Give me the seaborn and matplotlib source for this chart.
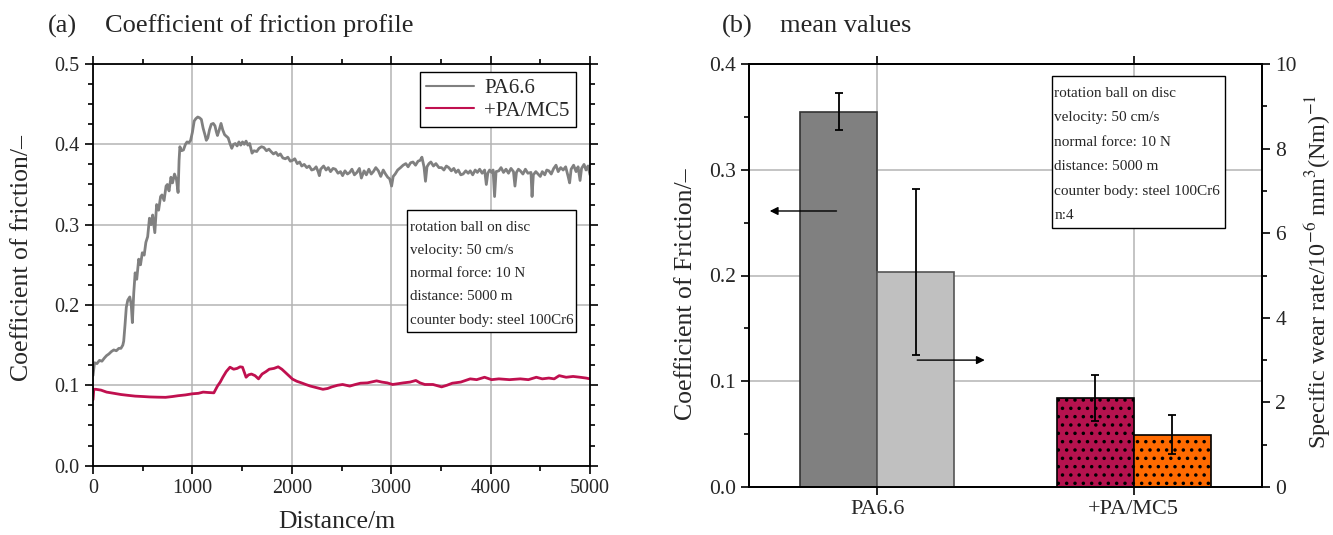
import numpy as np
import pandas as pd
import matplotlib
matplotlib.use("Agg")
import matplotlib.pyplot as plt
from matplotlib.patches import Rectangle
from matplotlib.ticker import MultipleLocator, FormatStrFormatter
import seaborn as sns

# ---- data ----
pa66_dist = [0, 15, 40, 65, 90, 115, 137, 160, 185, 209, 235, 260, 281, 300, 309, 322, 335, 350, 370, 385,
             396, 410, 424, 440, 460, 478, 496, 515, 532, 550, 568, 585, 600, 622, 640, 660, 680, 694, 715, 735,
             748, 765, 784, 800, 820, 840, 856, 866, 874, 890, 910, 930, 946, 965, 982, 1000, 1018, 1035, 1054, 1072,
             1090, 1108, 1126, 1140, 1155, 1172, 1190, 1210, 1227, 1240, 1252, 1270, 1288, 1305, 1324, 1342, 1360, 1378, 1396, 1414,
             1432, 1450, 1468, 1486, 1504, 1522, 1540, 1558, 1576, 1590, 1600, 1620, 1647, 1670, 1695, 1719, 1745, 1770, 1791, 1815,
             1840, 1863, 1885, 1910, 1935, 1960, 1985, 2007, 2030, 2055, 2079, 2100, 2125, 2151, 2175, 2200, 2223, 2245, 2265, 2277,
             2290, 2320, 2345, 2367, 2390, 2415, 2439, 2465, 2490, 2511, 2535, 2560, 2583, 2605, 2630, 2655, 2680, 2700, 2727, 2750,
             2775, 2799, 2820, 2845, 2871, 2895, 2920, 2943, 2965, 2985, 3004, 3020, 3040, 3065, 3094, 3120, 3147, 3170, 3195, 3219,
             3245, 3270, 3291, 3309, 3330, 3345, 3360, 3380, 3399, 3425, 3450, 3480, 3507, 3530, 3555, 3579, 3605, 3630, 3651, 3675,
             3700, 3723, 3750, 3775, 3795, 3820, 3845, 3867, 3890, 3915, 3940, 3957, 3972, 3990, 4011, 4025, 4040, 4055, 4083, 4105,
             4130, 4155, 4180, 4205, 4230, 4245, 4260, 4280, 4299, 4325, 4350, 4375, 4406, 4417, 4430, 4455, 4478, 4500, 4520, 4545,
             4565, 4586, 4610, 4635, 4658, 4680, 4705, 4730, 4755, 4780, 4795, 4810, 4835, 4860, 4880, 4900, 4915, 4940, 4960, 4980,
             5000]
pa66_cof = [0.112, 0.128, 0.127, 0.131, 0.130, 0.134, 0.137, 0.139, 0.142, 0.144, 0.143, 0.146, 0.146, 0.150, 0.155, 0.175, 0.197, 0.206, 0.210, 0.200,
            0.178, 0.215, 0.240, 0.232, 0.257, 0.250, 0.265, 0.262, 0.278, 0.285, 0.308, 0.300, 0.312, 0.290, 0.325, 0.318, 0.335, 0.337, 0.330, 0.348,
            0.350, 0.342, 0.359, 0.352, 0.363, 0.356, 0.340, 0.380, 0.397, 0.392, 0.393, 0.400, 0.403, 0.402, 0.405, 0.415, 0.429, 0.432, 0.434, 0.433,
            0.431, 0.420, 0.412, 0.405, 0.408, 0.418, 0.425, 0.426, 0.423, 0.416, 0.411, 0.418, 0.426, 0.418, 0.412, 0.410, 0.408, 0.401, 0.395, 0.400,
            0.401, 0.398, 0.403, 0.399, 0.403, 0.400, 0.404, 0.399, 0.401, 0.394, 0.389, 0.392, 0.391, 0.395, 0.397, 0.396, 0.392, 0.394, 0.391, 0.388,
            0.390, 0.386, 0.388, 0.383, 0.382, 0.384, 0.379, 0.380, 0.382, 0.376, 0.378, 0.373, 0.375, 0.371, 0.373, 0.368, 0.369, 0.372, 0.366, 0.361,
            0.369, 0.373, 0.368, 0.371, 0.366, 0.370, 0.369, 0.364, 0.366, 0.361, 0.367, 0.363, 0.365, 0.369, 0.362, 0.365, 0.370, 0.358, 0.367, 0.362,
            0.369, 0.363, 0.366, 0.371, 0.367, 0.360, 0.368, 0.363, 0.359, 0.357, 0.348, 0.360, 0.363, 0.368, 0.371, 0.374, 0.376, 0.372, 0.377, 0.378,
            0.374, 0.379, 0.380, 0.384, 0.372, 0.354, 0.372, 0.376, 0.378, 0.373, 0.376, 0.371, 0.371, 0.368, 0.373, 0.371, 0.367, 0.370, 0.365, 0.368,
            0.362, 0.363, 0.367, 0.364, 0.367, 0.362, 0.368, 0.365, 0.369, 0.364, 0.368, 0.350, 0.364, 0.368, 0.365, 0.368, 0.335, 0.366, 0.367, 0.371,
            0.365, 0.369, 0.364, 0.370, 0.366, 0.348, 0.365, 0.369, 0.367, 0.363, 0.369, 0.364, 0.365, 0.335, 0.362, 0.366, 0.363, 0.360, 0.366, 0.362,
            0.368, 0.367, 0.363, 0.370, 0.374, 0.366, 0.371, 0.368, 0.372, 0.360, 0.352, 0.369, 0.374, 0.366, 0.372, 0.355, 0.370, 0.375, 0.368, 0.373,
            0.362]

mc5_dist = [0, 8, 29, 80, 137, 210, 281, 350, 424, 500, 568, 650, 730, 800, 856, 930, 1000, 1060, 1108, 1160,
            1216, 1252, 1280, 1306, 1340, 1378, 1415, 1450, 1480, 1504, 1540, 1565, 1594, 1630, 1665, 1701, 1740, 1773, 1820, 1863,
            1900, 1935, 2007, 2050, 2097, 2140, 2187, 2250, 2313, 2360, 2403, 2460, 2511, 2583, 2640, 2691, 2760, 2853, 2906, 2960,
            3014, 3070, 3122, 3190, 3248, 3290, 3338, 3420, 3507, 3560, 3615, 3700, 3795, 3860, 3939, 4010, 4083, 4190, 4299, 4380,
            4460, 4520, 4586, 4640, 4690, 4760, 4830, 4900, 4960, 5000]
mc5_cof = [0.082, 0.095, 0.095, 0.094, 0.0915, 0.090, 0.0885, 0.0875, 0.0865, 0.086, 0.0855, 0.0852, 0.085, 0.086, 0.087, 0.088, 0.0894, 0.090, 0.0915, 0.091,
           0.0906, 0.099, 0.104, 0.110, 0.117, 0.1225, 0.120, 0.121, 0.123, 0.1225, 0.110, 0.113, 0.114, 0.112, 0.108, 0.114, 0.117, 0.120, 0.121, 0.123,
           0.120, 0.116, 0.1077, 0.105, 0.103, 0.101, 0.099, 0.097, 0.095, 0.096, 0.098, 0.100, 0.101, 0.099, 0.101, 0.1026, 0.103, 0.1055, 0.104, 0.103,
           0.101, 0.102, 0.103, 0.104, 0.106, 0.103, 0.101, 0.101, 0.098, 0.100, 0.1026, 0.104, 0.108, 0.107, 0.110, 0.107, 0.108, 0.107, 0.108, 0.107,
           0.110, 0.108, 0.109, 0.108, 0.112, 0.110, 0.111, 0.110, 0.109, 0.108]

categories = ["PA6.6", "+PA/MC5"]
cof_mean = [0.355, 0.084]
cof_err = [0.0175, 0.022]
wear_mean = [5.08, 1.24]
wear_err = [1.97, 0.46]

conditions_a = ["rotation ball on disc", "velocity: 50 cm/s", "normal force: 10 N",
                "distance: 5000 m", "counter body: steel 100Cr6"]
conditions_b = conditions_a + ["n:4"]

sns.set_theme(style="ticks")
plt.rcParams["font.family"] = ["Liberation Serif", "DejaVu Serif"]
plt.rcParams["mathtext.fontset"] = "stix"
plt.rcParams["hatch.linewidth"] = 1.3
plt.rcParams["hatch.color"] = "black"

grey_line = "#808080"
red_line = "#c0104f"

fig = plt.figure(figsize=(13.33, 5.35), dpi=100)
ax = fig.add_axes([93 / 1333, 1 - 465.6 / 535, 497 / 1333, 401.6 / 535])
axb = fig.add_axes([749 / 1333, 1 - 487 / 535, 513 / 1333, 423 / 535])

# ---- (a) friction profile ----
df_a = pd.concat([
    pd.DataFrame({"Distance": pa66_dist, "COF": pa66_cof, "Material": "PA6.6"}),
    pd.DataFrame({"Distance": mc5_dist, "COF": mc5_cof, "Material": "+PA/MC5"}),
])
sns.lineplot(data=df_a, x="Distance", y="COF", hue="Material",
             palette={"PA6.6": grey_line, "+PA/MC5": red_line},
             linewidth=2.0, ax=ax, estimator=None, sort=False)

ax.set_xlim(0, 5000)
ax.set_ylim(0, 0.5)
ax.xaxis.set_major_locator(MultipleLocator(1000))
ax.xaxis.set_minor_locator(MultipleLocator(500))
ax.yaxis.set_major_locator(MultipleLocator(0.1))
ax.yaxis.set_minor_locator(MultipleLocator(0.025))
ax.yaxis.set_major_formatter(FormatStrFormatter("%.1f"))
ax.grid(True, which="major", color="#b4b4b4", linewidth=1.1)
ax.set_axisbelow(True)
ax.tick_params(which="both", direction="out", top=True, right=True, labelsize=14.5, width=1.2, color="black")
ax.tick_params(which="major", length=6)
ax.tick_params(which="minor", length=3.5)
for s in ax.spines.values():
    s.set_linewidth(1.3)
    s.set_color("black")
ax.set_xlabel("Distance/m", fontsize=18.5)
ax.set_ylabel("Coefficient of friction/\u2013", fontsize=18.5)
ax.xaxis.set_label_coords(0.49, -0.113)
ax.yaxis.set_label_coords(-0.12, 0.517)

leg = ax.legend(loc="upper right", bbox_to_anchor=(0.972, 0.98), borderaxespad=0,
                fontsize=15, frameon=True, fancybox=False, edgecolor="black", framealpha=1,
                handlelength=2.3, handletextpad=0.5, borderpad=0.3, labelspacing=0.15, title=None)
leg.get_frame().set_linewidth(1.0)
for h in leg.get_lines():
    h.set_linewidth(1.5)

ax.add_patch(Rectangle((0.632, 0.333), 0.34, 0.303, transform=ax.transAxes,
                       facecolor="white", edgecolor="black", linewidth=1.0, zorder=5))
for i, t in enumerate(conditions_a):
    ax.text(0.638, 0.594 - i * 0.058, t, transform=ax.transAxes, fontsize=10.8,
            va="center", ha="left", zorder=6)

# ---- (b) mean values ----
xpos = np.arange(len(categories))
w = 0.3
cof_colors = ["#808080", "#b5124e"]
wear_colors = ["#c0c0c0", "#ff6a00"]
cof_edges = ["#333333", "black"]
wear_edges = ["#555555", "black"]
hatches = [None, ".."]

axw = axb.twinx()
axb.bar(xpos - w / 2, cof_mean, width=w, color=cof_colors, edgecolor=cof_edges,
        linewidth=1.2, zorder=2)
axw.bar(xpos + w / 2, wear_mean, width=w, color=wear_colors, edgecolor=wear_edges,
        linewidth=1.2, zorder=2)
for p, hch in zip(axb.patches, hatches):
    if hch:
        p.set_hatch(hch)
for p, hch in zip(axw.patches, hatches):
    if hch:
        p.set_hatch(hch)
axb.errorbar(xpos - w / 2, cof_mean, yerr=cof_err, fmt="none", ecolor="black",
             elinewidth=1.3, capsize=3, capthick=1.3, zorder=3)
axw.errorbar(xpos + w / 2, wear_mean, yerr=wear_err, fmt="none", ecolor="black",
             elinewidth=1.3, capsize=3, capthick=1.3, zorder=3)

axb.set_xlim(-0.5, 1.5)
axb.set_ylim(0, 0.4)
axw.set_ylim(0, 10)
axb.set_xticks(xpos)
axb.set_xticklabels(categories)
axb.yaxis.set_major_locator(MultipleLocator(0.1))
axb.yaxis.set_minor_locator(MultipleLocator(0.05))
axb.yaxis.set_major_formatter(FormatStrFormatter("%.1f"))
axw.yaxis.set_major_locator(MultipleLocator(2))
axw.yaxis.set_minor_locator(MultipleLocator(1))
axb.grid(True, which="major", color="#b4b4b4", linewidth=1.1)
axb.set_axisbelow(True)
axb.tick_params(which="both", direction="out", top=True, labelsize=15.5, width=1.2, color="black")
axb.tick_params(axis="x", labelsize=16)
axb.tick_params(axis="x", which="minor", top=False, bottom=False)
axw.tick_params(which="both", direction="out", labelsize=15.5, width=1.2, color="black")
for a in (axb, axw):
    a.tick_params(which="major", length=6)
    a.tick_params(which="minor", length=3.5)
    for s in a.spines.values():
        s.set_linewidth(1.3)
        s.set_color("black")
axb.set_ylabel("Coefficient of Friction/\u2013", fontsize=18.5)
axw.set_ylabel("Specific wear rate/10$^{-6}$ mm$^{3}$(Nm)$^{-1}$", fontsize=17.5)
axb.yaxis.set_label_coords(-0.101, 0.457)
axw.yaxis.set_label_coords(1.08, 0.51)

axb.annotate("", xy=(-0.43, 0.261), xytext=(-0.148, 0.261),
             arrowprops=dict(arrowstyle="-|>", color="black", lw=1.0, mutation_scale=12))
axw.annotate("", xy=(0.43, 3.0), xytext=(0.145, 3.0),
             arrowprops=dict(arrowstyle="-|>", color="black", lw=1.0, mutation_scale=12))

axw.add_patch(Rectangle((0.591, 0.612), 0.337, 0.36, transform=axw.transAxes,
                        facecolor="white", edgecolor="black", linewidth=1.0, zorder=5))
for i, t in enumerate(conditions_b):
    axw.text(0.595, 0.931 - i * 0.058, t, transform=axw.transAxes, fontsize=11,
             va="center", ha="left", zorder=6)

title_y = 1 - 26 / 535
fig.text(48 / 1333, title_y, "(a)", fontsize=19, va="center", ha="left")
fig.text(105 / 1333, title_y, "Coefficient of friction profile", fontsize=19, va="center", ha="left")
fig.text(722 / 1333, title_y, "(b)", fontsize=19, va="center", ha="left")
fig.text(780 / 1333, title_y, "mean values", fontsize=19, va="center", ha="left")

fig.savefig("out.png", dpi=100)
